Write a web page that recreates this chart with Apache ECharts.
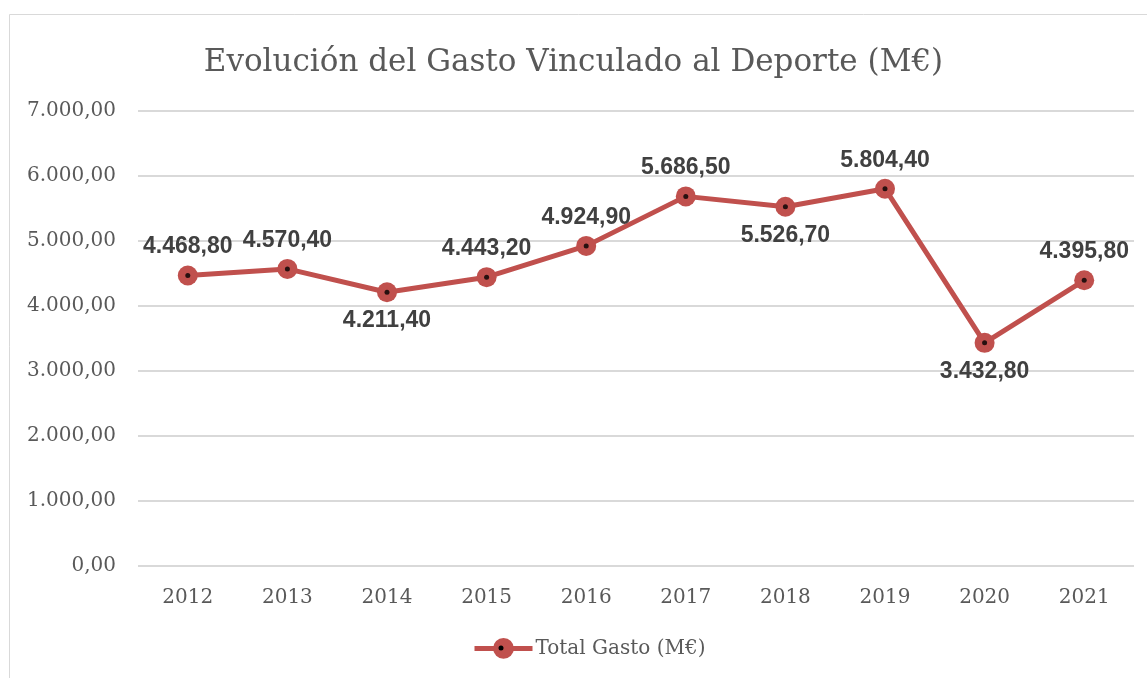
<!DOCTYPE html>
<html>
<head>
<meta charset="utf-8">
<script src="https://cdn.jsdelivr.net/npm/echarts@6/dist/echarts.min.js"></script>
<style>
  html, body { margin: 0; padding: 0; background: #fff; }
  #chart { width: 1147px; height: 678px; }
</style>
</head>
<body>
<div id="chart"></div>
<script>
const years = ["2012", "2013", "2014", "2015", "2016", "2017", "2018", "2019", "2020", "2021"];
const totalGasto = [4468.8, 4570.4, 4211.4, 4443.2, 4924.9, 5686.5, 5526.7, 5804.4, 3432.8, 4395.8];
// label above or below each point
const labelPos = ["top", "top", "bottom", "top", "top", "top", "bottom", "top", "bottom", "top"];

const serif = "'DejaVu Serif', serif";
const red = "#C0504D";

// 4468.8 -> "4.468,80"
function fmtEs(v) {
  const parts = v.toFixed(2).split(".");
  const intPart = parts[0].replace(/\B(?=(\d{3})+(?!\d))/g, ".");
  return intPart + "," + parts[1];
}

const chart = echarts.init(document.getElementById("chart"));

chart.setOption({
  backgroundColor: "#fff",
  animation: false,
  title: {
    text: "Evolución del Gasto Vinculado al Deporte (M€)",
    left: "center",
    top: 42,
    textStyle: { fontFamily: serif, fontSize: 31, fontWeight: "normal", color: "#595959" }
  },
  graphic: [
    {
      type: "rect",
      shape: { x: 9.5, y: 14.5, width: 1160, height: 700 },
      style: { fill: null, stroke: "#d9d9d9", lineWidth: 1 },
      silent: true
    },
    {
      // black centre dot of the legend marker
      type: "circle",
      shape: { cx: 501, cy: 648, r: 2.5 },
      style: { fill: "#000" },
      z: 100,
      silent: true
    }
  ],
  legend: {
    left: 472,
    top: 638,
    padding: 0,
    itemWidth: 58,
    itemHeight: 26,
    itemGap: 5,
    data: ["Total Gasto (M€)"],
    lineStyle: { width: 5 },
    textStyle: { fontFamily: serif, fontSize: 20, color: "#595959", padding: [0, 0, 0, -2] }
  },
  grid: { left: 138, right: 13, top: 111, bottom: 112 },
  xAxis: {
    type: "category",
    data: years,
    boundaryGap: true,
    axisLine: { show: false },
    axisTick: { show: false },
    axisLabel: { fontFamily: serif, fontSize: 20, color: "#595959", margin: 22 }
  },
  yAxis: {
    type: "value",
    min: 0,
    max: 7000,
    interval: 1000,
    axisLine: { show: false },
    axisTick: { show: false },
    splitLine: { lineStyle: { color: "#d9d9d9", width: 2 } },
    axisLabel: {
      fontFamily: serif, fontSize: 20, color: "#595959", margin: 22,
      formatter: fmtEs
    }
  },
  series: [
    {
      name: "Total Gasto (M€)",
      type: "line",
      data: totalGasto.map((v, i) => ({
        value: v,
        label: { position: labelPos[i] }
      })),
      symbol: "circle",
      symbolSize: 20,
      itemStyle: { color: red },
      lineStyle: { color: red, width: 5 },
      label: {
        show: true,
        distance: 7,
        fontFamily: "'Liberation Sans', Arial, sans-serif",
        fontWeight: "bold",
        fontSize: 23,
        color: "#404040",
        formatter: p => fmtEs(p.value)
      }
    },
    {
      name: "dots",
      type: "scatter",
      data: totalGasto,
      symbol: "circle",
      symbolSize: 5,
      itemStyle: { color: "#000" },
      silent: true,
      z: 5
    }
  ]
});
</script>
</body>
</html>
